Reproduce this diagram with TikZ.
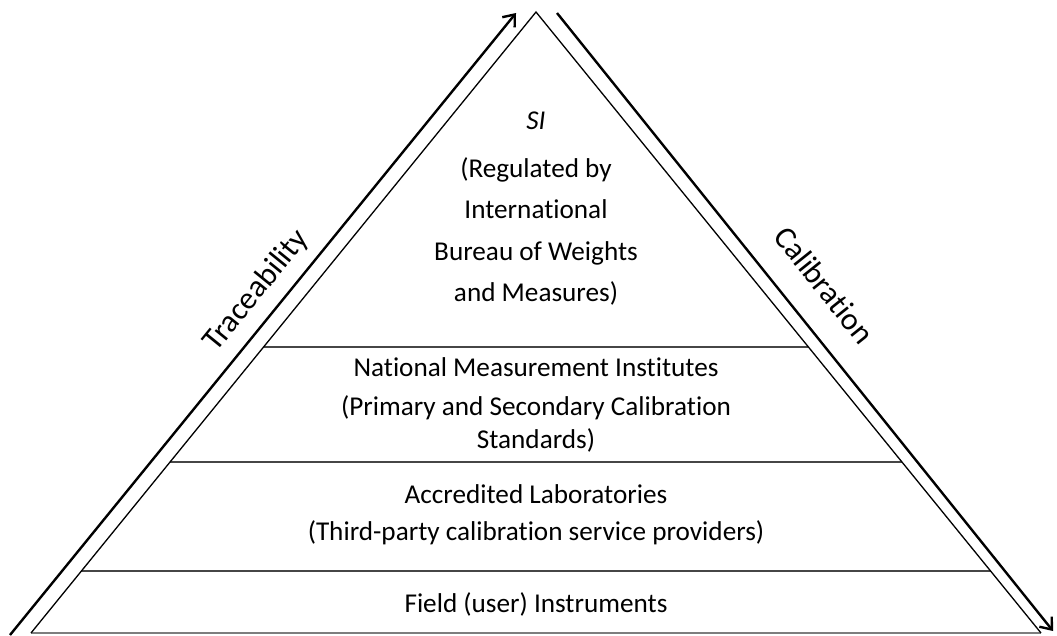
\documentclass[tikz,border=0pt]{standalone}
\usepackage{fontspec}
\setmainfont{Carlito}[Ligatures=NoCommon]
\usepackage{xcolor}
\definecolor{pyrgray}{RGB}{70, 70, 70}
\definecolor{pyrbase}{RGB}{125, 125, 125}
\usetikzlibrary{arrows.meta, calc}

\begin{document}
\begin{tikzpicture}[
    x=1pt, y=-1pt,
    layer/.style={align=center, anchor=north, inner sep=0pt, font=\fontsize{27.2}{33}\selectfont},
    sidetext/.style={anchor=base, inner sep=0pt, font=\fontsize{31.5}{36}\selectfont},
    sidearrow/.style={line width=2.4pt, -{Straight Barb[length=10pt, width=16pt]}},
    rule/.style={draw=pyrgray, line width=1.6pt}
  ]
  \useasboundingbox (0,0) rectangle (1057,635);

  % corners of the pyramid
  \coordinate (apex) at (536,12);
  \coordinate (bl) at (31,633);
  \coordinate (br) at (1041,633);

  % the pyramid and its levels
  \draw[draw=pyrbase, line width=1.4pt] (bl) -- (br);
  \foreach \y in {347, 462, 571}
    \draw[rule] ($(apex)!{(\y-12)/621}!(bl)$) -- ($(apex)!{(\y-12)/621}!(br)$);
  \draw[line width=1.3pt, line join=miter] (bl) -- (apex) -- (br);

  % texts of the levels
  \node[layer] (si) at (536,112) {%
    \textit{SI}\\[15pt](Regulated by\\[8pt]International\\[9pt]Bureau of Weights\\[8pt]and Measures)};
  \node[layer] (nmi) at (536,357) {%
    National Measurement Institutes\\[6pt](Primary and Secondary Calibration\\Standards)};
  \node[layer] (acc) at (536,484) {%
    Accredited Laboratories\\[4pt](Third-party calibration service providers)};
  \node[layer] (field) at (536,592) {Field (user) Instruments};

  % arrows along the sides
  \coordinate (trfoot) at (10,635);
  \coordinate (trtip) at (516,13);
  \coordinate (catop) at (557,13);
  \coordinate (catip) at (1053,631);
  \draw[sidearrow] (trfoot) -- (trtip);
  \draw[sidearrow] (catop) -- (catip);

  \node[sidetext, rotate=50.9] (trace) at (263,296) {Traceability};
  \node[sidetext, rotate=-51.3] (calib) at (816,292) {Calibration};
\end{tikzpicture}
\end{document}
